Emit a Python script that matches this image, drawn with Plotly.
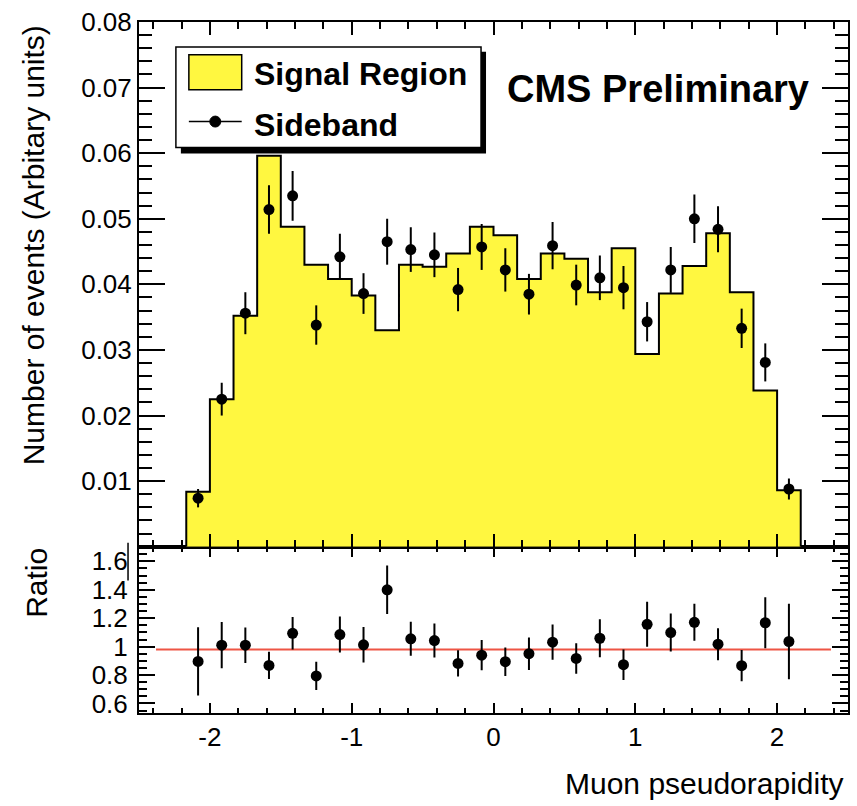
import numpy as np
import plotly.graph_objects as go

# ---- data -----------------------------------------------------------------
n_bins = 26
eta_lo, eta_hi = -13 / 6, 13 / 6
eta_edges = np.linspace(eta_lo, eta_hi, n_bins + 1)
eta_centers = 0.5 * (eta_edges[:-1] + eta_edges[1:])

signal_region = [
    0.0084, 0.0225, 0.0352, 0.0596, 0.0488, 0.0430, 0.0408, 0.0383, 0.0330,
    0.0430, 0.0427, 0.0447, 0.0488, 0.0475, 0.0408, 0.0447, 0.0439, 0.0388,
    0.0455, 0.0294, 0.0386, 0.0428, 0.0478, 0.0388, 0.0238, 0.0086,
]
sideband = [
    0.0074, 0.0225, 0.0356, 0.0514, 0.0535, 0.0338, 0.0442, 0.0386, 0.0465,
    0.0453, 0.0445, 0.0392, 0.0457, 0.0422, 0.0385, 0.0459, 0.0399, 0.0410,
    0.0395, 0.0343, 0.0422, 0.0500, 0.0484, 0.0333, 0.0281, 0.0088,
]
sideband_err = [
    0.0014, 0.0025, 0.0032, 0.0037, 0.0038, 0.0030, 0.0035, 0.0031, 0.0035,
    0.0034, 0.0034, 0.0033, 0.0035, 0.0033, 0.0031, 0.0036, 0.0031, 0.0034,
    0.0033, 0.0030, 0.0035, 0.0037, 0.0035, 0.0030, 0.0029, 0.0016,
]
ratio = [
    0.896, 1.010, 1.010, 0.868, 1.094, 0.794, 1.085, 1.013, 1.400,
    1.055, 1.043, 0.882, 0.940, 0.894, 0.950, 1.031, 0.917, 1.059,
    0.873, 1.157, 1.099, 1.171, 1.017, 0.866, 1.168, 1.036,
]
ratio_err = [
    0.240, 0.163, 0.125, 0.096, 0.115, 0.100, 0.127, 0.125, 0.170,
    0.120, 0.120, 0.093, 0.106, 0.100, 0.114, 0.124, 0.107, 0.134,
    0.107, 0.158, 0.134, 0.130, 0.113, 0.110, 0.180, 0.265,
]
ratio_fit = 0.98
fit_span = (-2.38, 2.38)

y_ticks_main = [0.01, 0.02, 0.03, 0.04, 0.05, 0.06, 0.07, 0.08]
y_ticks_ratio = [0.6, 0.8, 1.0, 1.2, 1.4, 1.6]
x_ticks = [-2, -1, 0, 1, 2]

# ---- geometry ---------------------------------------------------------------
W, H = 857, 806
ML, MR, MT, MB = 139, 7, 19, 93
PW, PH = W - ML - MR, H - MT - MB
split = (H - MB - 546) / PH  # ratio pad height fraction

def fx(px):
    return (px - ML) / PW

def fy(py):
    return (H - MB - py) / PH

FONT = "Liberation Sans, Arial, Helvetica, sans-serif"
YELLOW = "#fff740"

# step outline of the histogram
step_x = [eta_edges[0]] + list(eta_edges)
step_y = [0.0] + list(signal_region) + [0.0]

fig = go.Figure()
fig.add_trace(go.Scatter(
    x=step_x, y=step_y, mode="lines", line=dict(shape="hv", color="black", width=2),
    fill="tozeroy", fillcolor=YELLOW, xaxis="x2", yaxis="y", showlegend=False,
    hoverinfo="skip",
))
fig.add_trace(go.Scatter(
    x=eta_centers, y=sideband, mode="markers",
    marker=dict(color="black", size=11),
    error_y=dict(type="data", array=sideband_err, color="black", thickness=2, width=0),
    xaxis="x2", yaxis="y", showlegend=False,
))
fig.add_trace(go.Scatter(
    x=list(fit_span), y=[ratio_fit, ratio_fit], mode="lines",
    line=dict(color="#ee5544", width=2), xaxis="x", yaxis="y2", showlegend=False,
))
fig.add_trace(go.Scatter(
    x=eta_centers, y=ratio, mode="markers",
    marker=dict(color="black", size=11),
    error_y=dict(type="data", array=ratio_err, color="black", thickness=2, width=0),
    xaxis="x", yaxis="y2", showlegend=False,
))

axis_common = dict(
    showline=True, linecolor="black", linewidth=2, mirror="allticks",
    ticks="inside", tickcolor="black", tickwidth=1.5, showgrid=False, zeroline=False,
    tickfont=dict(family=FONT, size=26, color="black"),
)

fig.update_layout(
    width=W, height=H, margin=dict(l=ML, r=MR, t=MT, b=MB),
    paper_bgcolor="white", plot_bgcolor="white",
    xaxis=dict(
        **axis_common, domain=[0, 1], anchor="y2", range=[-2.5, 2.5],
        tickvals=x_ticks, ticktext=["-2", "-1", "0", "1", "2"], ticklen=10,
        minor=dict(dtick=0.2, ticklen=5, ticks="inside", tickcolor="black", tickwidth=1.5),
    ),
    xaxis2=dict(
        **axis_common, domain=[0, 1], anchor="y", matches="x", range=[-2.5, 2.5],
        tickvals=x_ticks, showticklabels=False, ticklen=13,
        minor=dict(dtick=0.2, ticklen=7, ticks="inside", tickcolor="black", tickwidth=1.5),
    ),
    yaxis=dict(
        **axis_common, domain=[split, 1], anchor="x2", range=[0, 0.08],
        tickvals=y_ticks_main, ticktext=[f"{v:.2f}" for v in y_ticks_main], ticklen=26,
        minor=dict(dtick=0.002, ticklen=13, ticks="inside", tickcolor="black", tickwidth=1.5),
    ),
    yaxis2=dict(
        **axis_common, domain=[0, split], anchor="x", range=[0.533, 1.703],
        tickvals=y_ticks_ratio, ticktext=["0.6", "0.8", "1", "1.2", "1.4", "1.6"], ticklen=16,
        ticklabelstandoff=4,
        minor=dict(dtick=0.05, ticklen=8, ticks="inside", tickcolor="black", tickwidth=1.5),
    ),
)

# legend box with drop shadow
shapes = [
    dict(type="rect", xref="paper", yref="paper", x0=fx(181), x1=fx(487), y0=fy(151), y1=fy(49),
         fillcolor="black", line=dict(width=0)),
    dict(type="rect", xref="paper", yref="paper", x0=fx(176), x1=fx(482), y0=fy(145), y1=fy(44),
         fillcolor="white", line=dict(color="black", width=1.5)),
    dict(type="rect", xref="paper", yref="paper", x0=fx(189), x1=fx(242), y0=fy(87), y1=fy(52),
         fillcolor=YELLOW, line=dict(color="black", width=1.5)),
    dict(type="line", xref="paper", yref="paper", x0=fx(189), x1=fx(242), y0=fy(119), y1=fy(119),
         line=dict(color="black", width=1.5)),
    dict(type="circle", xref="paper", yref="paper", x0=fx(210), x1=fx(221), y0=fy(124.5), y1=fy(113.5),
         fillcolor="black", line=dict(color="black", width=1)),
    # short frame segment left of the ratio labels
    dict(type="line", xref="paper", yref="paper", x0=fx(128), x1=fx(128), y0=fy(580), y1=fy(542),
         line=dict(color="black", width=1.5)),
]
fig.update_layout(shapes=shapes)

annotations = [
    dict(text="Signal Region", x=fx(252), y=fy(71), xanchor="left", yanchor="middle",
         font=dict(family=FONT, size=32, color="black", weight="bold")),
    dict(text="Sideband", x=fx(252), y=fy(122), xanchor="left", yanchor="middle",
         font=dict(family=FONT, size=32, color="black", weight="bold")),
    dict(text="CMS Preliminary", x=fx(506), y=fy(86), xanchor="left", yanchor="middle",
         font=dict(family=FONT, size=38, color="black", weight="bold")),
    dict(text="Number of events (Arbitary units)", x=fx(33), y=fy(243), textangle=-90,
         xanchor="center", yanchor="middle", font=dict(family=FONT, size=30, color="black")),
    dict(text="Ratio", x=fx(36), y=fy(582), textangle=-90,
         xanchor="center", yanchor="middle", font=dict(family=FONT, size=30, color="black")),
    dict(text="Muon pseudorapidity", x=fx(848), y=fy(784), xanchor="right", yanchor="middle",
         font=dict(family=FONT, size=30, color="black")),
]
for a in annotations:
    a.update(xref="paper", yref="paper", showarrow=False)
fig.update_layout(annotations=annotations)

fig.write_html("out.html")
